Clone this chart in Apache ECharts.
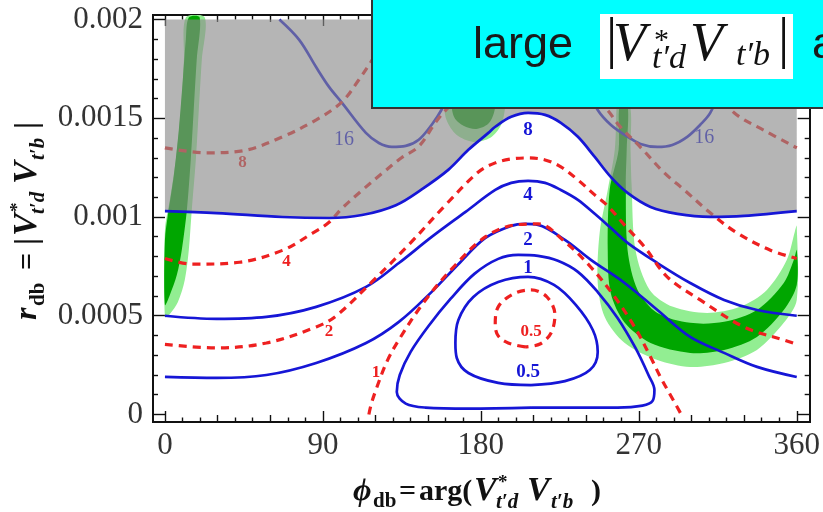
<!DOCTYPE html>
<html><head><meta charset="utf-8">
<script src="https://cdn.jsdelivr.net/npm/echarts@6/dist/echarts.min.js"></script>
<style>html,body{margin:0;padding:0;background:#fff}#c{width:823px;height:512px}</style>
</head><body><div id="c"></div>
<script>
// ---------- tick values ----------
const xTicks = [0, 90, 180, 270, 360];
const xMidTicks = [30, 60, 120, 150, 210, 240, 300, 330];
const xMinorTicks = [10, 20, 40, 50, 70, 80, 100, 110, 130, 140, 160, 170, 190, 200, 220, 230, 250, 260, 280, 290, 310, 320, 340, 350];
const yTicks = [0, 0.0005, 0.001, 0.0015, 0.002];
const yTickLabels = ['0', '0.0005', '0.001', '0.0015', '0.002'];
const yMinorTicks = [0.0001, 0.0002, 0.0003, 0.0004, 0.0006, 0.0007, 0.0008, 0.0009, 0.0011, 0.0012, 0.0013, 0.0014, 0.0016, 0.0017, 0.0018, 0.0019];

// ---------- blue (solid) contours [phi, r] ----------
const blue8 = [[0,0.00103],[29.5,0.00102],[66.9,0.001],[93.5,0.000995],[112.3,0.00101],[131.6,0.00106],[146.3,0.00114],[161.6,0.00124],[172.9,0.00134],[184.3,0.001426],[188.2,0.001457],[197.3,0.001507],[206.9,0.001527],[216.6,0.001517],[225.6,0.001477],[235.3,0.001406],[244.9,0.001304],[254.0,0.001203],[263.6,0.001122],[276.7,0.001051],[292.0,0.001016],[310.7,0.001001],[330.0,0.001006],[360,0.00103]];
const blue4 = [[0,0.0005],[29.5,0.000484],[57.8,0.000494],[86.2,0.000545],[114.6,0.000646],[133.3,0.000767],[152.0,0.000899],[171.3,0.001026],[188.2,0.001137],[197.3,0.001173],[206.9,0.001183],[216.6,0.001173],[225.6,0.001137],[235.3,0.001087],[244.9,0.001016],[254.0,0.000945],[263.6,0.000869],[280.6,0.000767],[299.3,0.000666],[318.6,0.00058],[337.4,0.000529],[360,0.0005]];
const blue2 = [[0,0.00019],[29.5,0.000185],[57.8,0.0002],[86.2,0.000261],[114.6,0.000362],[133.3,0.000469],[152.0,0.000621],[167.3,0.000762],[182.6,0.000894],[197.3,0.000955],[205.2,0.000965],[212.6,0.00096],[227.9,0.000884],[242.7,0.000783],[261.9,0.000666],[280.6,0.000529],[299.3,0.000393],[318.6,0.000312],[337.4,0.000241],[360,0.00019]];
const blue1 = [[208.6,0.000035],[172.9,0.00003],[148.5,0.000035],[137.2,0.000055],[132.1,0.000114],[133.8,0.0002],[140.0,0.000317],[150.2,0.000448],[162.7,0.000585],[176.3,0.000712],[189.9,0.000788],[201.3,0.000808],[212.6,0.000803],[223.9,0.000778],[235.3,0.000722],[246.6,0.00062],[257.9,0.000489],[268.1,0.000337],[275.5,0.0002],[278.9,0.000124],[277.8,0.000068],[272.1,0.000045],[257.9,0.000035],[235.3,0.000035],[208.6,0.000035]];
const blue05 = [[208.6,0.000149],[189.9,0.00016],[172.9,0.00021],[166.3,0.000286],[165.5,0.000362],[167.2,0.000479],[175.7,0.000595],[189.9,0.000671],[206.9,0.000697],[221.7,0.000656],[234.1,0.000555],[243.8,0.000428],[246.6,0.000317],[242.1,0.000225],[227.9,0.000169],[208.6,0.000149]];
const blue16a = [[65.2,0.002],[76.5,0.001897],[86.2,0.001758],[93.5,0.001659],[100.9,0.001578],[114.5,0.001426],[121.9,0.001375],[129.3,0.001355],[137.2,0.00136],[144.6,0.001391],[152.0,0.001467],[157.6,0.001543],[164.4,0.001669],[168.4,0.001795],[171.2,0.002]];
const blue16b = [[232.4,0.002],[238.1,0.001695],[246.6,0.001542],[254.0,0.001467],[261.9,0.001416],[271.0,0.00137],[280.6,0.001355],[289.1,0.001365],[297.6,0.001406],[305.0,0.001467],[310.7,0.001527],[316.3,0.001644],[323.4,0.002]];

// ---------- red (dashed) contours [phi, r] ----------
const red05 = [[205.2,0.000342],[195.6,0.000362],[189.9,0.000398],[188.2,0.000453],[189.9,0.000545],[198.4,0.00061],[208.6,0.000631],[217.7,0.000595],[222.2,0.000504],[220.0,0.000413],[213.7,0.000357],[205.2,0.000342]];
const red1 = [[116.2,0],[117.4,0.000048],[120.2,0.000124],[126.4,0.000266],[133.2,0.000377],[148.5,0.00058],[165.5,0.000757],[182.5,0.000899],[199.6,0.00096],[212.6,0.000965],[227.9,0.000874],[242.6,0.000747],[256.3,0.000595],[267.6,0.000443],[276.7,0.000291],[282.3,0.00019],[288.0,0.000099],[294.2,0]];
const red2 = [[0,0.000355],[29.5,0.000337],[57.8,0.000362],[86.2,0.000443],[97.5,0.000499],[117.9,0.000671],[138.9,0.000859],[159.9,0.001061],[178.6,0.001228],[188.2,0.001274],[197.3,0.001294],[206.9,0.001299],[216.6,0.001289],[225.6,0.001254],[235.3,0.001188],[244.9,0.001112],[252.3,0.001056],[261.9,0.000959],[273.3,0.000848],[286.3,0.000696],[305.0,0.00058],[330.0,0.000443],[354.4,0.000372],[360,0.000355]];
const red4 = [[0,0.00079],[15.9,0.000761],[42.5,0.000771],[66.9,0.000831],[83.9,0.000917],[93.5,0.000973],[100.9,0.001044],[112.3,0.001135],[123.6,0.00122],[135.0,0.001301],[144.6,0.001357],[154.2,0.001479],[159.9,0.00154],[172.9,0.001641],[204.1,0.001702],[235.3,0.001651],[250.6,0.001555],[259.1,0.00146],[271.0,0.001353],[284.6,0.001223],[295.9,0.001137],[310.7,0.001021],[326.0,0.000919],[344.7,0.000833],[360,0.00079]];
const red8a = [[0,0.00135],[23.8,0.001325],[44.2,0.001335],[66.9,0.001406],[86.2,0.001492],[100.9,0.001583],[110.5,0.001695],[117.4,0.001786],[124.7,0.001897],[130.4,0.002]];
const red8b = [[306.1,0.002],[311.8,0.001796],[317.5,0.001619],[324.3,0.001528],[343.0,0.001431],[360,0.00135]];

// ---------- contour labels ----------
const blueLabels = ['8', '4', '2', '1', '0.5'];
const blueLabelPos = [[206.9,0.00144],[206.9,0.00111],[206.9,0.000884],[206.9,0.000742],[206.9,0.000215]];
const blue16Labels = ['16', '16'];
const blue16LabelPos = [[102.0,0.00139],[307.3,0.0014]];
const redLabels = ['8', '4', '2', '1', '0.5'];
const redLabelPos = [[44.2,0.001274],[69.2,0.000773],[93.5,0.000418],[120.2,0.00021],[208.6,0.000418]];

// ---------- allowed (green) regions [phi, r] ----------
const greenLeftLight = [[11.9,0.00201],[22.7,0.00201],[21.0,0.001796],[19.3,0.001543],[17.6,0.001289],[15.3,0.001036],[13.6,0.000833],[11.3,0.000681],[7.4,0.00057],[2.8,0.000509],[0,0.000494],[0,0.000934],[2.8,0.001087],[6.2,0.001289],[9.1,0.001543],[10.8,0.001796]];
const greenLeftDark = [[13.6,0.00201],[19.8,0.00201],[18.1,0.001796],[16.4,0.001543],[14.7,0.001289],[12.5,0.001036],[9.6,0.000833],[6.8,0.000707],[2.8,0.000605],[0,0.000555],[0,0.000884],[1.7,0.001011],[5.1,0.001213],[7.9,0.001441],[10.2,0.001695],[11.9,0.001897]];
const greenTopLight = [[158.7,0.001593],[160.4,0.001492],[166.1,0.001416],[175.7,0.00138],[185.4,0.001401],[191.6,0.001467],[193.9,0.001568],[192.8,0.001644],[158.7,0.001644]];
const greenTopDark = [[162.7,0.001593],[165.0,0.001502],[170.1,0.001462],[177.4,0.001446],[184.2,0.001472],[187.6,0.001532],[188.2,0.001619],[162.7,0.001619]];
const greenRightLight = [[257.9,0.00157],[264.8,0.00157],[265.3,0.00134],[265.9,0.001163],[268.1,0.000833],[276.2,0.000631],[289.5,0.000545],[308.9,0.000514],[327.7,0.000545],[343.0,0.000631],[354.3,0.000782],[358.9,0.000925],[360,0.000955],[360,0.00058],[352.6,0.000464],[337.3,0.000327],[318.6,0.000261],[299.3,0.000241],[280.6,0.000276],[262.0,0.000362],[250.6,0.000494],[246.6,0.000666],[247.7,0.00092],[252.3,0.001137],[256.3,0.00134],[257.4,0.00157]];
const greenRightDark = [[259.1,0.00157],[263.6,0.00157],[263.1,0.00134],[262.6,0.001163],[263.6,0.000833],[269.3,0.000631],[280.6,0.000514],[299.3,0.000464],[318.6,0.000469],[337.3,0.000529],[352.6,0.000666],[358.3,0.000782],[360,0.000833],[360,0.000656],[352.6,0.000529],[337.3,0.000393],[318.6,0.000327],[299.3,0.000312],[276.7,0.000362],[262.0,0.000464],[254.0,0.000615],[252.3,0.000833],[253.4,0.001137],[258.5,0.00134]];

// ---------- styles ----------
const BLUE = '#1616d6', RED = '#ee2020';
const LIGHTGREEN = '#92ee92', DARKGREEN = '#00a600';
const SHADE = 'rgba(140,140,140,0.64)';

function poly(points, color, z) {
  return {type:'custom', coordinateSystem:'cartesian2d', silent:true, z, clip:true,
    data:[[points[0][0], points[0][1]]],
    renderItem:(p, api) => ({type:'polygon', shape:{points: points.map(q => api.coord(q)), smooth:0.3}, style:{fill:color}})};
}
function line(data, color, dashed, z) {
  return {type:'line', data, smooth:0.35, symbol:'none', silent:true, z, animation:false,
    lineStyle:{color, width: dashed ? 3.2 : 2.7, type: dashed ? [8, 6] : 'solid'}};
}
function labels(pos, texts, color, size, bold, z) {
  return {type:'custom', coordinateSystem:'cartesian2d', silent:true, z,
    data: pos.map((p, i) => [p[0], p[1], i]),
    renderItem:(p, api) => {
      const pt = api.coord([api.value(0), api.value(1)]);
      return {type:'text', x:pt[0], y:pt[1], style:{text: texts[api.value(2)], fill:color,
        fontFamily:'Liberation Serif', fontSize:size, fontWeight: bold ? 'bold' : 'normal', align:'center', verticalAlign:'middle'}};
    }};
}

const X0 = -6.803, X1 = 367.37, Y0 = -0.000038, Y1 = 0.0020228;
function xa(pos, ticks, len, withLabels) {
  return {type:'value', min:X0, max:X1, position:pos,
    axisLine:{show:true, onZero:false, lineStyle:{color:'#111', width:2}},
    axisTick:{show:true, inside:true, length:len, customValues:ticks, lineStyle:{color:'#111', width:1.4}},
    axisLabel: withLabels ? {show:true, customValues:ticks, fontFamily:'Liberation Serif', fontSize:31, color:'#333', margin:8,
      formatter: v => String(Math.round(v))} : {show:false},
    splitLine:{show:false}};
}
function ya(pos, ticks, len, withLabels) {
  return {type:'value', min:Y0, max:Y1, position:pos,
    axisLine:{show:true, onZero:false, lineStyle:{color:'#111', width:2}},
    axisTick:{show:true, inside:true, length:len, customValues:ticks, lineStyle:{color:'#111', width:1.4}},
    axisLabel: withLabels ? {show:true, customValues:ticks, fontFamily:'Liberation Serif', fontSize:31, color:'#333', margin:10,
      formatter: v => { let best = 0; yTicks.forEach((t, i) => { if (Math.abs(t - v) < Math.abs(yTicks[best] - v)) best = i; }); return yTickLabels[best]; }} : {show:false},
    splitLine:{show:false}};
}

// text piece helper (base = alphabetic baseline)
function tp(t, x, base, size, o) {
  o = o || {};
  return {type:'text', x, y: base - 0.31 * size, z: o.z || 50, silent:true,
    style:{text:t, fontFamily: o.family || 'Liberation Serif', fontSize:size,
      fontWeight: o.bold ? 'bold' : 'normal', fontStyle: o.italic ? 'italic' : 'normal',
      fill: o.color || '#111', align:'left', verticalAlign:'middle'}};
}

const B = {bold:true}, BI = {bold:true, italic:true};
const xTitle = {type:'group', x:353, y:502, children:[
  tp('ϕ', 0, 0, 32, BI), tp('db', 20, 6, 21, B), tp('=', 46, 0, 30, B), tp('arg(', 66, 0, 30, B),
  tp('V', 121, 0, 34, BI), tp('*', 145, -13, 19, B), tp('t′d', 143, 7, 21, BI),
  tp('V', 174, 0, 34, BI), tp('t′b', 198, 7, 21, BI), tp(')', 238, 0, 30, B)]};
const yTitle = {type:'group', x:38, y:320, rotation:Math.PI / 2, children:[
  tp('r', 0, 0, 32, BI), tp('db', 14, 7, 21, B), tp('=', 50, 0, 30, B), tp('|', 75, 0, 32, B),
  tp('V', 84, 0, 34, BI), tp('*', 108, -14, 19, B), tp('t′d', 106, 7, 21, BI),
  tp('V', 136, 0, 34, BI), tp('t′b', 160, 7, 21, BI), tp('|', 191, 0, 32, B)]};

const boxZ = {z:102};
const banner = [
  {type:'rect', z:100, silent:true, shape:{x:372, y:-5, width:470, height:113}, style:{fill:'#00ffff', stroke:'#333', lineWidth:2}},
  {type:'rect', z:101, silent:true, shape:{x:600, y:14, width:193, height:65}, style:{fill:'#ffffff'}},
  tp('large', 473, 60, 45, {family:'Liberation Sans', z:102, color:'#1a1a1a'}),
  tp('and', 812, 60, 45, {family:'Liberation Sans', z:102, color:'#1a1a1a'}),
  tp('|', 606, 60, 56, boxZ),
  tp('V', 613, 63, 54, {italic:true, z:102}),
  tp('*', 654, 50, 30, boxZ),
  tp('t′d', 652, 70, 34, {italic:true, z:102}),
  tp('V', 690, 63, 54, {italic:true, z:102}),
  tp('t′b', 736, 67, 34, {italic:true, z:102}),
  tp('|', 778, 60, 56, boxZ)
];

const chart = echarts.init(document.getElementById('c'), null, {renderer:'canvas'});
chart.setOption({
  animation:false,
  backgroundColor:'#ffffff',
  grid:{left:153, right:10, top:15, bottom:90, containLabel:false},
  xAxis:[xa('bottom', xTicks, 11, true), xa('top', xTicks, 11, false),
         xa('bottom', xMidTicks, 7, false), xa('top', xMidTicks, 7, false),
         xa('bottom', xMinorTicks, 4.5, false), xa('top', xMinorTicks, 4.5, false)],
  yAxis:[ya('left', yTicks, 12, true), ya('right', yTicks, 12, false),
         ya('left', yMinorTicks, 5, false), ya('right', yMinorTicks, 5, false)],
  series:[
    poly(greenLeftLight, LIGHTGREEN, 1), poly(greenTopLight, LIGHTGREEN, 1), poly(greenRightLight, LIGHTGREEN, 1),
    poly(greenLeftDark, DARKGREEN, 1), poly(greenTopDark, DARKGREEN, 1), poly(greenRightDark, DARKGREEN, 1),
    line(blue4, BLUE, false, 3), line(blue2, BLUE, false, 3), line(blue1, BLUE, false, 3), line(blue05, BLUE, false, 3),
    line(blue16a, BLUE, false, 3), line(blue16b, BLUE, false, 3),
    line(red05, RED, true, 4), line(red1, RED, true, 4), line(red2, RED, true, 4), line(red4, RED, true, 4),
    line(red8a, RED, true, 4), line(red8b, RED, true, 4),
    labels(blueLabelPos, blueLabels, BLUE, 19, true, 5),
    labels(blue16LabelPos, blue16Labels, BLUE, 20, false, 5),
    labels(redLabelPos, redLabels, RED, 17, true, 5),
    Object.assign(line(blue8, BLUE, false, 6), {areaStyle:{color:SHADE, opacity:1, origin:0.002}})
  ],
  graphic:[xTitle, yTitle].concat(banner)
});
</script></body></html>
